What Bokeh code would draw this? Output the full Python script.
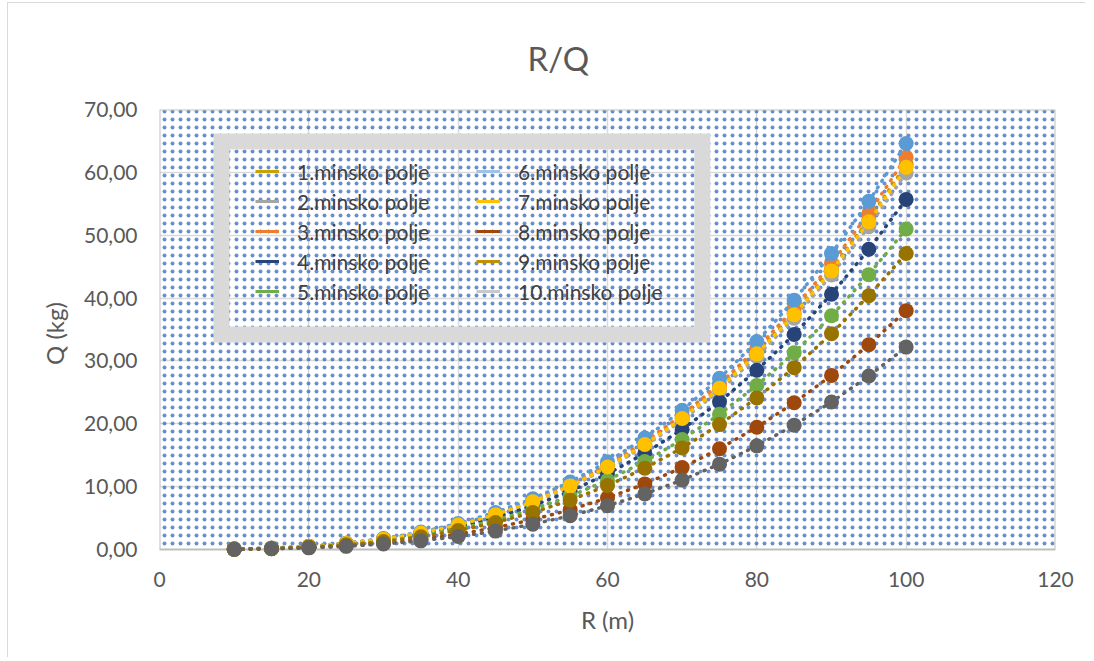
from bokeh.plotting import figure
from bokeh.models import FixedTicker, BoxAnnotation, Legend, LegendItem, Range1d
from bokeh.embed import file_html
from bokeh.resources import INLINE

# ---------------- data ----------------
R = [10, 15, 20, 25, 30, 35, 40, 45, 50, 55, 60, 65, 70, 75, 80, 85, 90, 95, 100]

names = ["1.minsko polje", "2.minsko polje", "3.minsko polje", "4.minsko polje",
         "5.minsko polje", "6.minsko polje", "7.minsko polje", "8.minsko polje",
         "9.minsko polje", "10.minsko polje"]

colors = ["#BF9000", "#A5A5A5", "#ED7D31", "#264478", "#70AD47",
          "#5B9BD5", "#FFC000", "#9E480E", "#997300", "#636363"]

legend_colors = ["#C9A100", "#A5A5A5", "#ED7D31", "#264478", "#70AD47",
                 "#9DC3E6", "#FFC000", "#9E480E", "#BF9000", "#C9C9C9"]

q1 = [0.06, 0.21, 0.49, 0.96, 1.65, 2.62, 3.92, 5.58, 7.65, 10.18, 13.22, 16.81, 20.99, 25.82, 31.33, 37.58, 44.61, 52.47, 61.20]
q2 = [0.06, 0.20, 0.48, 0.94, 1.62, 2.57, 3.83, 5.46, 7.49, 9.97, 12.94, 16.45, 20.55, 25.27, 30.67, 36.79, 43.67, 51.36, 59.90]
q3 = [0.06, 0.21, 0.50, 0.98, 1.68, 2.68, 3.99, 5.69, 7.80, 10.38, 13.48, 17.14, 21.40, 26.33, 31.95, 38.32, 45.49, 53.50, 62.40]
q4 = [0.06, 0.19, 0.45, 0.87, 1.50, 2.39, 3.56, 5.08, 6.96, 9.27, 12.03, 15.30, 19.11, 23.50, 28.52, 34.21, 40.61, 47.76, 55.70]
q5 = [0.05, 0.17, 0.41, 0.80, 1.38, 2.19, 3.26, 4.65, 6.38, 8.49, 11.02, 14.01, 17.49, 21.52, 26.11, 31.32, 37.18, 43.73, 51.00]
q6 = [0.06, 0.22, 0.52, 1.01, 1.74, 2.77, 4.13, 5.89, 8.08, 10.75, 13.95, 17.74, 22.16, 27.25, 33.08, 39.67, 47.09, 55.39, 64.60]
q7 = [0.06, 0.21, 0.49, 0.95, 1.64, 2.61, 3.89, 5.54, 7.60, 10.12, 13.13, 16.70, 20.85, 25.65, 31.13, 37.34, 44.32, 52.13, 60.80]
q8 = [0.04, 0.13, 0.30, 0.59, 1.03, 1.63, 2.43, 3.46, 4.75, 6.32, 8.21, 10.44, 13.03, 16.03, 19.46, 23.34, 27.70, 32.58, 38.00]
q9 = [0.05, 0.16, 0.38, 0.74, 1.27, 2.02, 3.01, 4.29, 5.89, 7.84, 10.17, 12.93, 16.16, 19.87, 24.12, 28.93, 34.34, 40.38, 47.10]
q10 = [0.03, 0.11, 0.26, 0.50, 0.87, 1.38, 2.06, 2.93, 4.03, 5.36, 6.96, 8.84, 11.04, 13.58, 16.49, 19.78, 23.47, 27.61, 32.20]

series = [q1, q2, q3, q4, q5, q6, q7, q8, q9, q10]

x_ticks = [0, 20, 40, 60, 80, 100, 120]
x_tick_labels = ["0", "20", "40", "60", "80", "100", "120"]
y_ticks = [0, 10, 20, 30, 40, 50, 60, 70]
y_tick_labels = ["0,00", "10,00", "20,00", "30,00", "40,00", "50,00", "60,00", "70,00"]

title_text = "R/Q"
x_label = "R (m)"
y_label = "Q (kg)"

# ---------------- styling ----------------
FONT = "Lato"
TXT = "#595959"
FRAME_H = 440
EXTRA = 8  # px below y=0 so bottom markers are not clipped
y_start = -70.0 * EXTRA / FRAME_H

p = figure(frame_width=896, frame_height=FRAME_H + EXTRA,
           x_range=Range1d(0, 120), y_range=Range1d(y_start, 70),
           output_backend="svg", toolbar_location=None,
           min_border_left=151, min_border_right=30,
           min_border_top=106, min_border_bottom=100,
           background_fill_color="white", border_fill_color="white")
p.outline_line_color = None
p.styles = {"margin-left": "7px", "margin-top": "2px",
            "border-left": "1px solid #D9D9D9", "border-top": "1px solid #D9D9D9"}

p.title.text = title_text
p.title.text_font = FONT
p.title.text_font_size = "33px"
p.title.text_font_style = "normal"
p.title.text_color = TXT
p.title.align = "left"
p.title.offset = 368
p.title.standoff = 64

p.grid.grid_line_color = "#D9D9D9"
p.grid.grid_line_width = 1.5
p.xgrid.ticker = FixedTicker(ticks=x_ticks)
p.ygrid.ticker = FixedTicker(ticks=y_ticks)

p.xaxis.ticker = FixedTicker(ticks=x_ticks)
p.xaxis.major_label_overrides = dict(zip(x_ticks, x_tick_labels))
p.yaxis.ticker = FixedTicker(ticks=y_ticks)
p.yaxis.major_label_overrides = dict(zip(y_ticks, y_tick_labels))

for ax in (p.xaxis[0], p.yaxis[0]):
    ax.axis_line_color = None
    ax.major_tick_line_color = None
    ax.minor_tick_line_color = None
    ax.major_tick_out = 0
    ax.major_tick_in = 0
    ax.major_label_text_font = FONT
    ax.major_label_text_font_size = "21px"
    ax.major_label_text_color = TXT
    ax.axis_label_text_font = FONT
    ax.axis_label_text_font_size = "24px"
    ax.axis_label_text_font_style = "normal"
    ax.axis_label_text_color = TXT

p.xaxis.axis_label = x_label
p.yaxis.axis_label = y_label
p.xaxis.major_label_standoff = 14
p.xaxis.axis_label_standoff = 15
p.yaxis.major_label_standoff = 22
p.yaxis.axis_label_standoff = 12

# white cover below y=0, then dotted pattern + frame border
cover = BoxAnnotation(top=0, fill_color="white", fill_alpha=1, line_alpha=0, level="underlay")
pattern = BoxAnnotation(left=0, right=120, bottom=0, top=70, fill_alpha=0,
                        hatch_pattern="dot", hatch_color="#4472C4", hatch_scale=8,
                        hatch_weight=0.25, hatch_alpha=0.8,
                        line_color="#BFBFBF", line_alpha=1,
                        line_width=2, level="underlay")
p.add_layout(cover)
p.add_layout(pattern)

items = []
for name, c, lc, q in zip(names, colors, legend_colors, series):
    p.line(R, q, line_color=c, line_width=3.5, line_dash="1 7", line_cap="round")
    p.scatter(R, q, size=15, fill_color=c, line_color=None)
    leg_r = p.line(R, q, line_color=lc, line_width=3, visible=False)
    items.append(LegendItem(label=name, renderers=[leg_r]))

# grey legend frame (drawn separately so the legend rows can be placed freely)
legend_frame = BoxAnnotation(left=8.3, right=72.7, top=64.9, bottom=34.2,
                             fill_alpha=0, line_color="#D9D9D9", line_alpha=1,
                             line_width=16, line_join="miter", level="annotation")
p.add_layout(legend_frame)

legend = Legend(items=items, location=(86, 241), orientation="vertical", nrows=5,
                border_line_alpha=0, border_line_width=0,
                background_fill_alpha=0, glyph_width=24, glyph_height=30,
                label_height=30, label_width=179, label_standoff=18, spacing=0,
                padding=10, label_text_font=FONT, label_text_font_size="21px",
                label_text_color="#404040", margin=0)
p.add_layout(legend)

open("out.html", "w").write(file_html(p, INLINE))
